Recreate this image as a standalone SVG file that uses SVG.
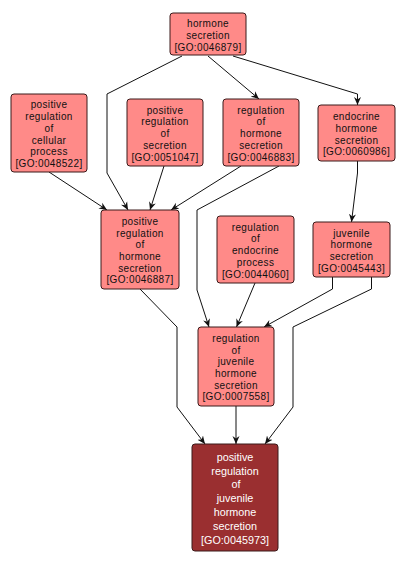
<svg xmlns="http://www.w3.org/2000/svg" width="406" height="566" viewBox="0 0 406 566">
<style>
.n rect{fill:#ff8a88;stroke:#3a1a1a;stroke-width:1}
.n text{font-family:"Liberation Sans",Arial,sans-serif;font-size:10px;letter-spacing:0.35px;fill:#111;text-anchor:middle}
.t rect{fill:#9a2f30;stroke:#3a1a1a;stroke-width:1}
.t text{font-family:"Liberation Sans",Arial,sans-serif;font-size:10.8px;fill:#fff;text-anchor:middle}
.e polyline{fill:none;stroke:#111;stroke-width:1;marker-end:url(#a)}
</style>
<defs>
<marker id="a" viewBox="0 0 8 8" refX="8" refY="4" markerWidth="8" markerHeight="8" markerUnits="userSpaceOnUse" orient="auto">
<path d="M0,0.5 L8,4 L0,7.5 L2.5,4 z" fill="#111"/>
</marker>
</defs>
<rect width="406" height="566" fill="#fff"/>
<g id="edges" class="e">
<polyline points="182,56 107,94 107,173 128,210"/>
<polyline points="208,56 259,99"/>
<polyline points="233,56 357.5,94 357.5,105"/>
<polyline points="49,172 107,210"/>
<polyline points="164,166 150,210"/>
<polyline points="241,166 171,210"/>
<polyline points="279,166 197,210 197,290 209,327"/>
<polyline points="357.5,161 357.5,173 351.5,222"/>
<polyline points="140,289 177,327 177,407 205,444"/>
<polyline points="255,283 236.5,327"/>
<polyline points="332.5,277 332.5,289 264,327"/>
<polyline points="371.5,277 371.5,289 293,327 293,407 265,444"/>
<polyline points="236,406 236,444"/>
</g>
<g id="n1" class="n"><rect x="170" y="13" width="76" height="42" rx="3"/>
<text x="208" y="27.4">hormone</text><text x="208" y="39.1">secretion</text><text x="208" y="50.8">[GO:0046879]</text></g>
<g id="n2" class="n"><rect x="11" y="94" width="76" height="78" rx="3"/>
<text x="49" y="108.4">positive</text><text x="49" y="120.1">regulation</text><text x="49" y="131.8">of</text><text x="49" y="143.5">cellular</text><text x="49" y="155.2">process</text><text x="49" y="166.9">[GO:0048522]</text></g>
<g id="n3" class="n"><rect x="127" y="99" width="76" height="67" rx="3"/>
<text x="165" y="113.7">positive</text><text x="165" y="125.4">regulation</text><text x="165" y="137.1">of</text><text x="165" y="148.8">secretion</text><text x="165" y="160.5">[GO:0051047]</text></g>
<g id="n4" class="n"><rect x="223" y="99" width="76" height="67" rx="3"/>
<text x="261" y="113.7">regulation</text><text x="261" y="125.4">of</text><text x="261" y="137.1">hormone</text><text x="261" y="148.8">secretion</text><text x="261" y="160.5">[GO:0046883]</text></g>
<g id="n5" class="n"><rect x="318" y="105" width="77" height="56" rx="3"/>
<text x="356.5" y="120.1">endocrine</text><text x="356.5" y="131.8">hormone</text><text x="356.5" y="143.5">secretion</text><text x="356.5" y="155.2">[GO:0060986]</text></g>
<g id="n6" class="n"><rect x="101" y="210" width="78" height="79" rx="3"/>
<text x="140" y="224.9">positive</text><text x="140" y="236.6">regulation</text><text x="140" y="248.3">of</text><text x="140" y="260">hormone</text><text x="140" y="271.7">secretion</text><text x="140" y="283.4">[GO:0046887]</text></g>
<g id="n7" class="n"><rect x="217" y="216" width="77" height="67" rx="3"/>
<text x="255.5" y="230.7">regulation</text><text x="255.5" y="242.4">of</text><text x="255.5" y="254.1">endocrine</text><text x="255.5" y="265.8">process</text><text x="255.5" y="277.5">[GO:0044060]</text></g>
<g id="n8" class="n"><rect x="313" y="222" width="77" height="55" rx="3"/>
<text x="351.5" y="236.6">juvenile</text><text x="351.5" y="248.3">hormone</text><text x="351.5" y="260">secretion</text><text x="351.5" y="271.7">[GO:0045443]</text></g>
<g id="n9" class="n"><rect x="198" y="327" width="76" height="79" rx="3"/>
<text x="236" y="341.9">regulation</text><text x="236" y="353.6">of</text><text x="236" y="365.3">juvenile</text><text x="236" y="377">hormone</text><text x="236" y="388.7">secretion</text><text x="236" y="400.4">[GO:0007558]</text></g>
<g id="n10" class="t"><rect x="192" y="444" width="86" height="107" rx="3"/>
<text x="235" y="460.6">positive</text><text x="235" y="474.5">regulation</text><text x="236" y="488.4">of</text><text x="235" y="502.3">juvenile</text><text x="235" y="516.2">hormone</text><text x="235" y="530.1">secretion</text><text x="235" y="544">[GO:0045973]</text></g>
</svg>
